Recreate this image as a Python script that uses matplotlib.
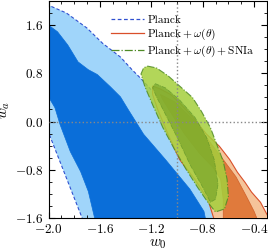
import numpy as np
import matplotlib
matplotlib.use("Agg")
import matplotlib.pyplot as plt
from matplotlib.ticker import MultipleLocator

plt.rcParams["font.family"] = "serif"
plt.rcParams["font.serif"] = ["cmr10", "DejaVu Serif"]
plt.rcParams["mathtext.fontset"] = "cm"
plt.rcParams["axes.formatter.use_mathtext"] = True

# contour outlines, in (w0, wa)
# Planck, 2 sigma
planck_2s_w0 = [-2.10, -2.00, -1.86, -1.70, -1.58, -1.44, -1.35, -1.27, -1.13, -0.94, -0.78, -0.67, -1.72, -2.00, -2.10]
planck_2s_wa = [2.00, 1.93, 1.80, 1.55, 1.30, 1.07, 0.86, 0.69, 0.36, -0.21, -0.87, -1.70, -1.70, -0.18, 0.30]
# Planck, 1 sigma
planck_1s_w0 = [-2.10, -2.00, -1.93, -1.85, -1.77, -1.69, -1.62, -1.52, -1.44, -1.38, -1.33, -1.26, -1.09, -0.90, -0.79, -0.77,
                -1.63, -1.69, -1.75, -1.83, -1.91, -1.95, -2.00, -2.10]
planck_1s_wa = [1.65, 1.60, 1.49, 1.27, 0.99, 0.86, 0.78, 0.58, 0.41, 0.20, 0.03, -0.21, -0.63, -1.12, -1.49, -1.70,
                -1.70, -1.16, -0.83, -0.50, -0.05, 0.23, 0.41, 0.55]
# Planck + w(theta), 2 sigma
pw_2s_w0 = [-1.19, -1.13, -1.05, -0.98, -0.88, -0.77, -0.67, -0.59, -0.53, -0.47, -0.42, -0.35, -0.31, -0.26,
            -0.70, -0.76, -0.86, -0.98, -1.07, -1.15, -1.19]
pw_2s_wa = [0.59, 0.54, 0.45, 0.31, 0.08, -0.21, -0.41, -0.63, -0.84, -1.01, -1.17, -1.34, -1.50, -1.70,
            -1.70, -1.29, -0.96, -0.63, -0.21, 0.20, 0.45]
# Planck + w(theta), 1 sigma
pw_1s_w0 = [-1.13, -1.02, -0.86, -0.74, -0.63, -0.54, -0.46, -0.40, -0.36,
            -0.64, -0.64, -0.66, -0.72, -0.82, -0.94, -1.04, -1.11]
pw_1s_wa = [0.45, 0.33, 0.00, -0.35, -0.66, -0.92, -1.24, -1.49, -1.70,
            -1.70, -1.29, -0.96, -0.76, -0.54, -0.21, 0.12, 0.36]
# Planck + w(theta) + SNIa, 2 sigma
pws_2s_w0 = [-1.23, -1.16, -1.07, -0.98, -0.88, -0.81, -0.74, -0.69, -0.64, -0.61, -0.60, -0.63, -0.70,
             -0.76, -0.84, -0.93, -1.02, -1.11, -1.19, -1.25, -1.28, -1.26]
pws_2s_wa = [0.92, 0.89, 0.76, 0.59, 0.40, 0.17, -0.10, -0.38, -0.66, -0.96, -1.24, -1.45, -1.50,
             -1.34, -1.09, -0.79, -0.46, -0.10, 0.28, 0.58, 0.79, 0.89]
# Planck + w(theta) + SNIa, 1 sigma
pws_1s_w0 = [-1.17, -1.09, -0.98, -0.86, -0.77, -0.71, -0.68, -0.70, -0.74, -0.80, -0.90, -0.99, -1.09, -1.16, -1.19]
pws_1s_wa = [0.63, 0.56, 0.36, 0.07, -0.26, -0.63, -1.04, -1.29, -1.34, -1.09, -0.71, -0.30, 0.12, 0.41, 0.56]

fig = plt.figure(figsize=(2.68, 2.5), dpi=100)
ax = fig.add_axes([0.181, 0.128, 0.815, 0.868])

ax.fill(planck_2s_w0, planck_2s_wa, facecolor="#a0d5fa", edgecolor="#3050d0", lw=0.8, ls=(0, (3, 2)), zorder=1)
ax.fill(planck_1s_w0, planck_1s_wa, facecolor="#0a6ed9", edgecolor="#0a6ed9", lw=0.5, zorder=2)

ax.fill(pw_2s_w0, pw_2s_wa, facecolor="#f5c49a", edgecolor="#d94f2a", lw=0.8, zorder=3)
ax.fill(pw_1s_w0, pw_1s_wa, facecolor="#e07a3c", edgecolor="#d0602a", lw=0.5, zorder=4)

ax.fill(pws_2s_w0, pws_2s_wa, facecolor="#a5cf3c", edgecolor="#4f8a25", lw=0.8, ls="-.", alpha=0.85, zorder=5)
ax.fill(pws_1s_w0, pws_1s_wa, facecolor="#6f9e24", edgecolor="#4f8a25", lw=0.5, ls="-.", alpha=0.6, zorder=6)

ax.axvline(-1.0, color="#888888", ls=":", lw=1.0, zorder=7)
ax.axhline(0.0, color="#888888", ls=":", lw=1.0, zorder=7)

ax.plot([], [], color="#3050d0", ls=(0, (3, 2)), lw=0.9, label="Planck")
ax.plot([], [], color="#d94f2a", ls="-", lw=0.9, label=r"$\mathrm{Planck}+\omega(\theta)$")
ax.plot([], [], color="#4f8a25", ls="-.", lw=0.9, label=r"$\mathrm{Planck}+\omega(\theta)+\mathrm{SNIa}$")
ax.legend(loc="upper left", bbox_to_anchor=(0.285, 0.935), frameon=False, fontsize=8.2,
          borderpad=0, borderaxespad=0, handlelength=2.9, handletextpad=0.3, labelspacing=0.15)

ax.set_xlim(-2.0, -0.3)
ax.set_ylim(-1.6, 2.0)
ax.xaxis.set_major_locator(MultipleLocator(0.4))
ax.xaxis.set_minor_locator(MultipleLocator(0.1))
ax.yaxis.set_major_locator(MultipleLocator(0.8))
ax.yaxis.set_minor_locator(MultipleLocator(0.2))
ax.tick_params(which="both", direction="in", top=True, right=True, labelsize=9.5)
ax.tick_params(which="major", length=4)
ax.tick_params(which="minor", length=2)
ax.set_xlabel(r"$w_0$", fontsize=11, labelpad=1)
ax.set_ylabel(r"$w_a$", fontsize=11, labelpad=2)

fig.savefig("out.png", dpi=100)
